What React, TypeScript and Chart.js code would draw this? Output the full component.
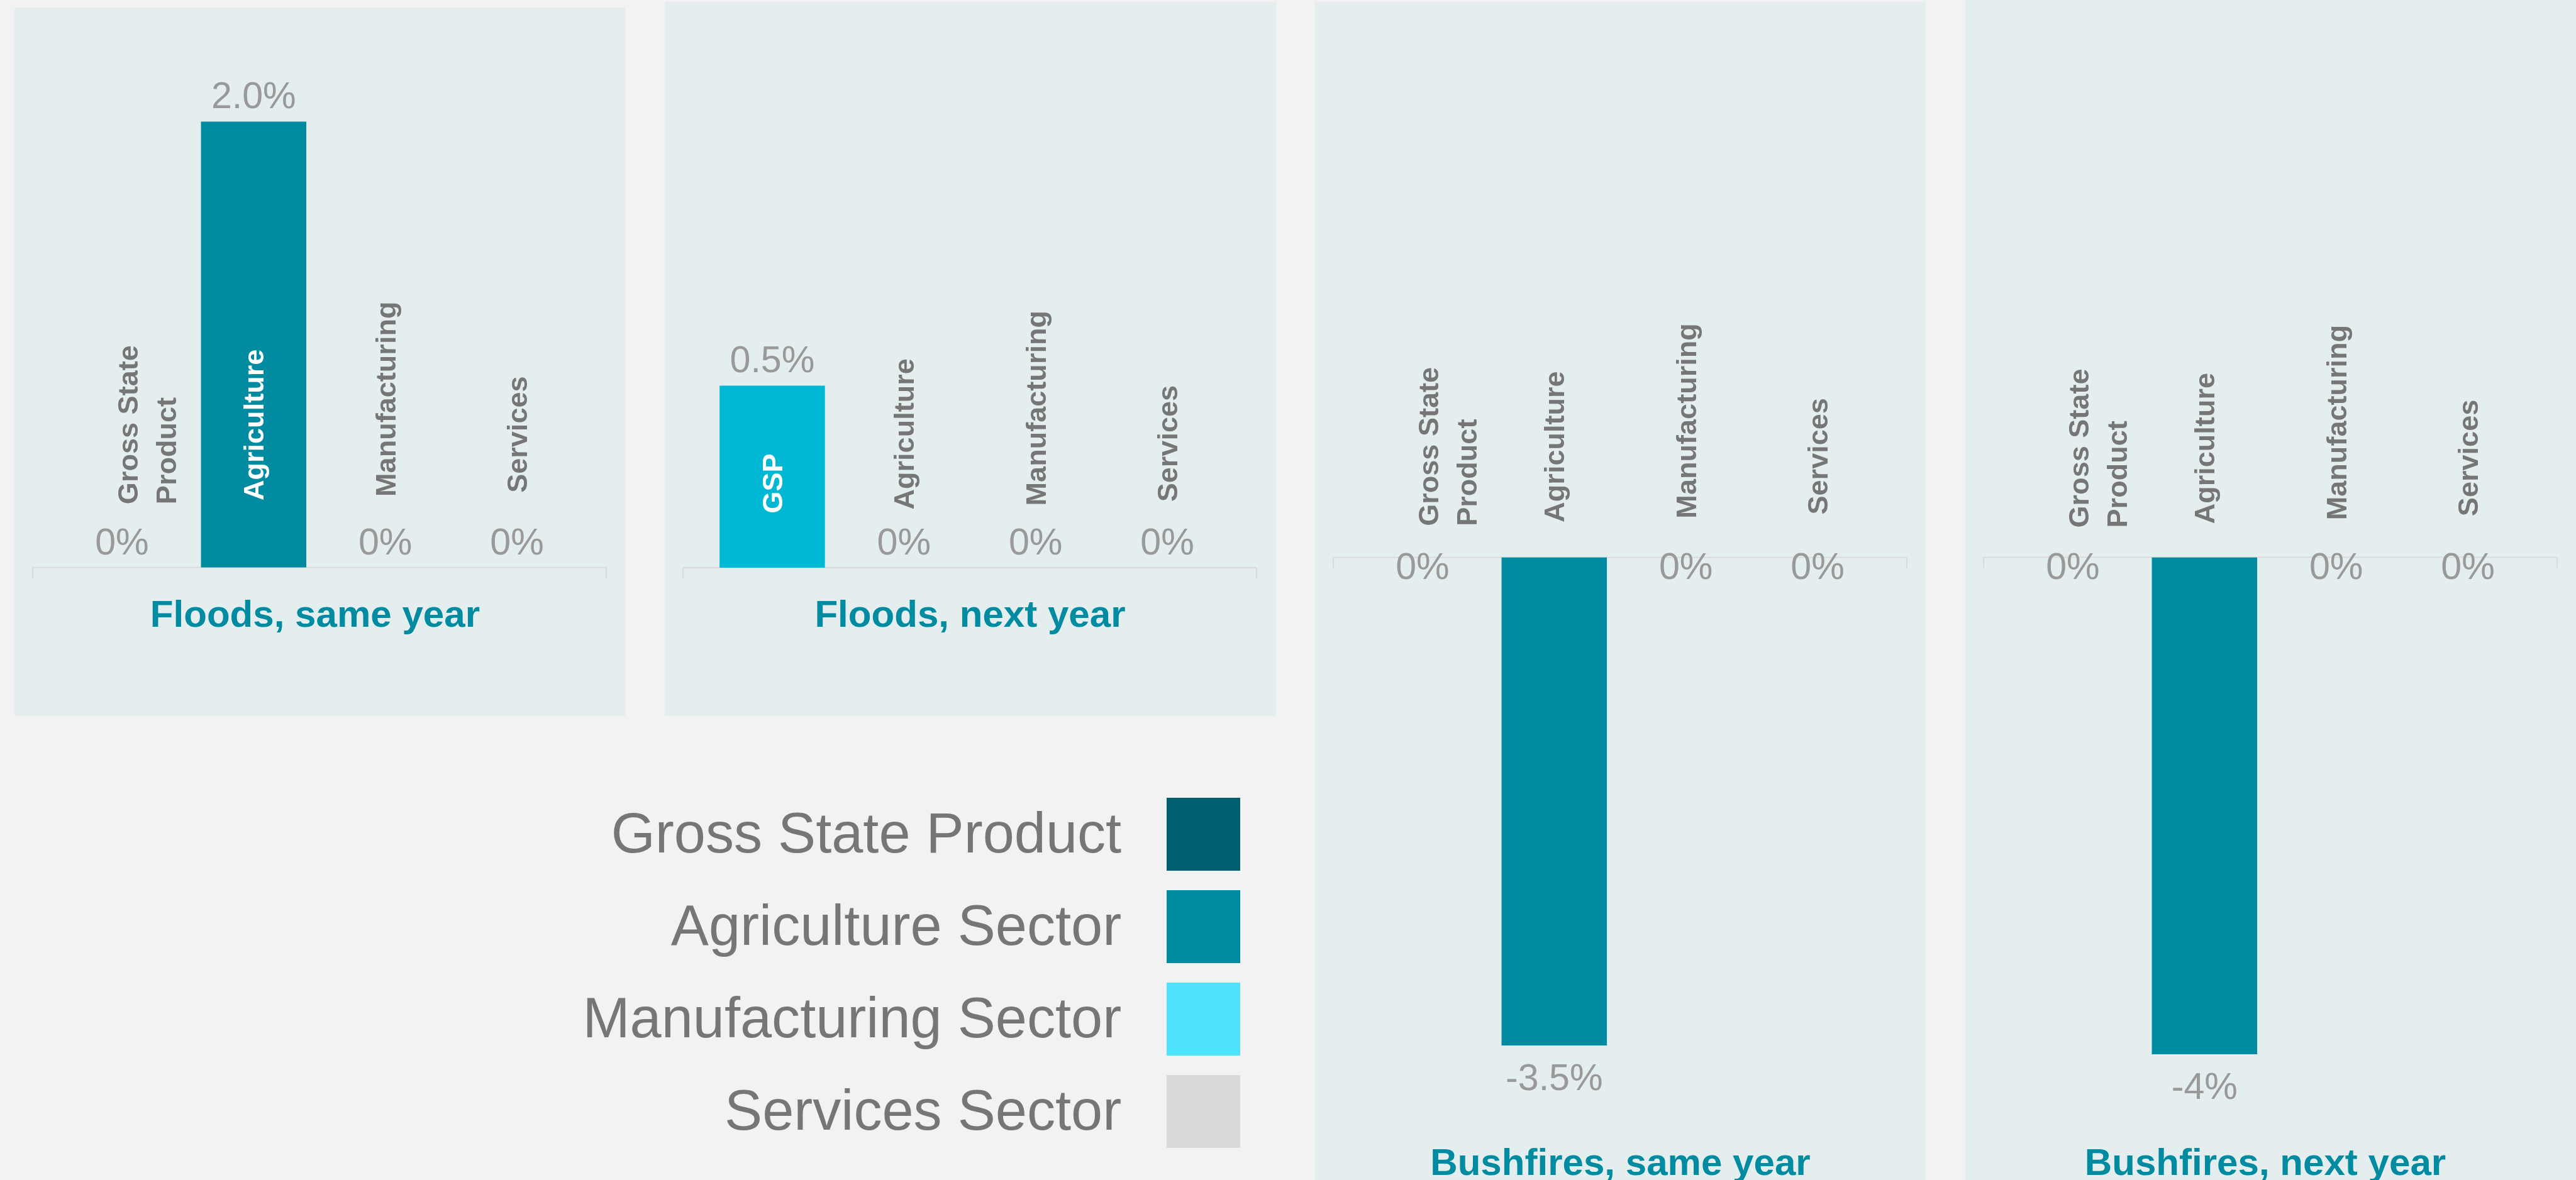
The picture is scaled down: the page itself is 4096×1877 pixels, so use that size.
import React, { useEffect, useRef } from "react";
import { Chart, registerables } from "chart.js";

Chart.register(...registerables);

// ---------- data ----------
const categories = ["Gross State Product", "Agriculture", "Manufacturing", "Services"];

const floodsSameYearValues = [0, 2.0, 0, 0];
const floodsNextYearValues = [0.5, 0, 0, 0];
const bushfiresSameYearValues = [0, -3.5, 0, 0];
const bushfiresNextYearValues = [0, -4, 0, 0];

const floodsSameYearLabels = ["0%", "2.0%", "0%", "0%"];
const floodsNextYearLabels = ["0.5%", "0%", "0%", "0%"];
const bushfiresSameYearLabels = ["0%", "-3.5%", "0%", "0%"];
const bushfiresNextYearLabels = ["0%", "-4%", "0%", "0%"];

const fullCategoryLines = [["Gross State", "Product"], ["Agriculture"], ["Manufacturing"], ["Services"]];
const shortCategoryLines = [["GSP"], ["Agriculture"], ["Manufacturing"], ["Services"]];

const panelTitles = ["Floods, same year", "Floods, next year", "Bushfires, same year", "Bushfires, next year"];

const legendLabels = ["Gross State Product", "Agriculture Sector", "Manufacturing Sector", "Services Sector"];
const legendColors = ["#005F6F", "#008BA0", "#50E3FF", "#D9D9D9"];

const sectorColors = ["#005F6F", "#008BA0", "#50E3FF", "#D9D9D9"];
const nextYearFloodColors = ["#00B8D4", "#008BA0", "#50E3FF", "#D9D9D9"];

// ---------- styling ----------
const S = 0.939;
const WIN_W = 4096;
const WIN_H = 1877;
const PAGE_BG = "#F2F2F2";
const PANEL_BG = "#E4EEEF";
const FONT = "'Liberation Sans', Arial, Helvetica, sans-serif";
const TITLE_COLOR = "#008BA0";
const CAT_COLOR = "#767676";
const VALUE_COLOR = "#999999";
const AXIS_COLOR = "#D9D9D9";

type PanelCfg = {
  title: string;
  values: number[];
  valueLabels: string[];
  catLines: string[][];
  colors: string[];
  left: number;
  top: number;
  width: number;
  height: number;
  zeroY: number;
  extremeY: number;
  titleX: number;
  titleY: number;
  labelLift: number;
};

const panels: PanelCfg[] = [
  {
    title: panelTitles[0], values: floodsSameYearValues, valueLabels: floodsSameYearLabels,
    catLines: fullCategoryLines, colors: sectorColors,
    left: 25, top: 13, width: 1034, height: 1200, zeroY: 961.5, extremeY: 206, titleX: 509, titleY: 1039, labelLift: 107,
  },
  {
    title: panelTitles[1], values: floodsNextYearValues, valueLabels: floodsNextYearLabels,
    catLines: shortCategoryLines, colors: nextYearFloodColors,
    left: 1126, top: 3, width: 1035, height: 1210, zeroY: 961.5, extremeY: 653, titleX: 517, titleY: 1039, labelLift: 92,
  },
  {
    title: panelTitles[2], values: bushfiresSameYearValues, valueLabels: bushfiresSameYearLabels,
    catLines: fullCategoryLines, colors: sectorColors,
    left: 2227, top: 3, width: 1034, height: 2010, zeroY: 944, extremeY: 1771, titleX: 517, titleY: 1967, labelLift: 53,
  },
  {
    title: panelTitles[3], values: bushfiresNextYearValues, valueLabels: bushfiresNextYearLabels,
    catLines: fullCategoryLines, colors: sectorColors,
    left: 3328, top: 0, width: 1040, height: 2010, zeroY: 944, extremeY: 1786, titleX: 508, titleY: 1967, labelLift: 50,
  },
];

function Panel({ cfg }: { cfg: PanelCfg }) {
  const ref = useRef<HTMLCanvasElement>(null);
  const cw = Math.round(cfg.width * S);
  const ch = Math.round(cfg.height * S);

  useEffect(() => {
    const canvas = ref.current!;
    const values = cfg.values;
    const isNeg = Math.min(...values) < 0;
    const yMin = isNeg ? Math.min(...values) : 0;
    const yMax = isNeg ? 0 : Math.max(...values);
    const areaTop = isNeg ? cfg.zeroY : cfg.extremeY;
    const areaBottom = isNeg ? cfg.extremeY : cfg.zeroY;

    const decor = {
      id: "panelDecor",
      beforeDatasetsDraw(chart: any) {
        const ctx = chart.ctx;
        const area = chart.chartArea;
        const y0 = chart.scales.y.getPixelForValue(0);
        const xl = area.left - 39.5 * S;
        const xr = area.right + 39.5 * S;
        ctx.save();
        ctx.strokeStyle = AXIS_COLOR;
        ctx.lineWidth = 2 * S;
        ctx.beginPath();
        ctx.moveTo(xl, y0 + 18 * S);
        ctx.lineTo(xl, y0);
        ctx.lineTo(xr, y0);
        ctx.lineTo(xr, y0 + 18 * S);
        ctx.stroke();
        ctx.restore();
      },
      afterDatasetsDraw(chart: any) {
        const ctx = chart.ctx;
        const meta = chart.getDatasetMeta(0);
        const y0 = chart.scales.y.getPixelForValue(0);
        ctx.save();
        meta.data.forEach((bar: any, i: number) => {
          const v = values[i];
          const { x, y } = bar.getProps(["x", "y"], true);
          // value label
          const vfs = 63 * S;
          let cy: number;
          if (!isNeg) cy = y - 45 * S;
          else cy = y + (v < 0 ? 53 : 14) * S;
          ctx.font = `${vfs}px ${FONT}`;
          ctx.fillStyle = VALUE_COLOR;
          ctx.textAlign = "center";
          ctx.textBaseline = "alphabetic";
          ctx.fillText(cfg.valueLabels[i], x, cy + 0.358 * vfs);
          // category label (rotated)
          const fs = 48 * S;
          const lines = cfg.catLines[i];
          ctx.font = `bold ${fs}px ${FONT}`;
          ctx.fillStyle = v > 0 ? "#FFFFFF" : CAT_COLOR;
          const startY = y0 - (cfg.labelLift + 6.5 * i) * S;
          lines.forEach((line, j) => {
            const cx = x + (lines.length > 1 ? (10 + 65 * j) * S : 0);
            ctx.save();
            ctx.translate(cx + 0.358 * fs, startY);
            ctx.rotate(-Math.PI / 2);
            ctx.textAlign = "left";
            ctx.textBaseline = "alphabetic";
            ctx.fillText(line, 0, 0);
            ctx.restore();
          });
        });
        // panel title
        const tfs = 64 * S;
        ctx.font = `bold ${tfs}px ${FONT}`;
        ctx.fillStyle = TITLE_COLOR;
        ctx.textAlign = "center";
        ctx.textBaseline = "alphabetic";
        ctx.fillText(cfg.title, cfg.titleX * S, (cfg.titleY - cfg.top) * S + 0.358 * tfs);
        ctx.restore();
      },
    };

    const chart = new Chart(canvas, {
      type: "bar",
      data: {
        labels: categories,
        datasets: [
          {
            data: values,
            backgroundColor: cfg.colors,
            borderWidth: 0,
            barPercentage: 0.8,
            categoryPercentage: 1.0,
          },
        ],
      },
      options: {
        responsive: false,
        animation: false,
        devicePixelRatio: 1,
        layout: {
          padding: {
            left: 70.5 * S,
            right: cw - 962.5 * S,
            top: (areaTop - cfg.top) * S,
            bottom: ch - (areaBottom - cfg.top) * S,
          },
        },
        scales: {
          x: { type: "category", display: false, offset: true, grid: { display: false } },
          y: { type: "linear", display: false, min: yMin, max: yMax, grid: { display: false } },
        },
        plugins: {
          legend: { display: false },
          tooltip: { enabled: false },
          title: { display: false },
        },
      } as any,
      plugins: [decor],
    });
    return () => chart.destroy();
  }, [cfg, cw, ch]);

  return (
    <div
      style={{
        position: "absolute",
        left: cfg.left * S,
        top: cfg.top * S,
        width: cw,
        height: ch,
        background: PANEL_BG,
      }}
    >
      <canvas ref={ref} width={cw} height={ch} style={{ width: cw, height: ch, display: "block" }} />
    </div>
  );
}

export default function App() {
  const lfs = 96 * S;
  return (
    <div
      style={{
        position: "fixed",
        left: 0,
        top: 0,
        width: WIN_W,
        height: WIN_H,
        overflow: "hidden",
        background: PAGE_BG,
        fontFamily: FONT,
      }}
    >
      {panels.map((p, i) => (
        <Panel key={i} cfg={p} />
      ))}
      {legendLabels.map((lab, i) => {
        const sqTop = 1351 + i * 156.7;
        const capCenter = sqTop + 62 - 3;
        return (
          <React.Fragment key={lab}>
            <div
              style={{
                position: "absolute",
                left: 1976 * S,
                top: sqTop * S,
                width: 124 * S,
                height: 124 * S,
                background: legendColors[i],
              }}
            />
            <div
              style={{
                position: "absolute",
                left: 0,
                width: 1899 * S,
                top: capCenter * S - 0.4885 * lfs,
                fontSize: lfs,
                lineHeight: `${lfs}px`,
                textAlign: "right",
                color: CAT_COLOR,
                whiteSpace: "nowrap",
              }}
            >
              {lab}
            </div>
          </React.Fragment>
        );
      })}
    </div>
  );
}
